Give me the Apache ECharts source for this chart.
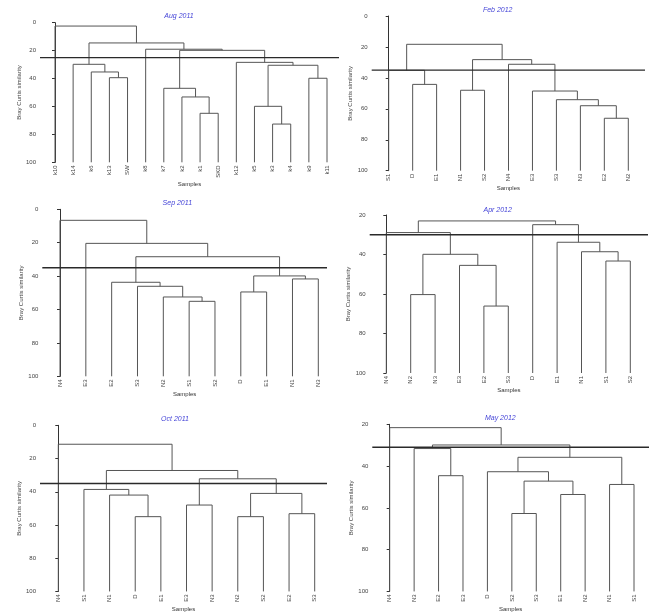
<!DOCTYPE html>
<html><head><meta charset="utf-8">
<script src="https://cdn.jsdelivr.net/npm/echarts@6/dist/echarts.min.js"></script>
<style>html,body{margin:0;padding:0;background:#fff}#c{width:653px;height:613px}</style>
</head><body><div id="c"></div>
<script>
// ---- DATA ----
// merges: [childA, childB, height]; a string = leaf, a number = index of an earlier merge
const augLeaves = ['k10','k14','k6','k13','SW','k8','k7','k2','k1','SKD','k12','k5','k3','k4','k9','k11'];
const augMerges = [
  ['k13','SW',39.4], ['k6',0,35.3], ['k14',1,29.8],
  ['k1','SKD',64.9], ['k2',3,53.2], ['k7',4,47.0],
  ['k3','k4',72.6], ['k5',6,59.9], ['k9','k11',39.8], [7,8,30.5], ['k12',9,28.4],
  [5,10,19.8], ['k8',11,19.0], [2,12,14.5], ['k10',13,2.4]
];
const augCut = 25;

const febLeaves = ['S1','D','E1','N1','S2','N4','E3','S3','N3','E2','N2'];
const febMerges = [
  ['D','E1',44.2], ['S1',0,35.1], ['N1','S2',48.0],
  ['E2','N2',66.1], ['N3',3,58.0], ['S3',4,54.1], ['E3',5,48.5], ['N4',6,31.2],
  [2,7,28.2], [1,8,18.3]
];
const febCut = 35;

const sepLeaves = ['N4','E3','E2','S3','N2','S1','S2','D','E1','N1','N3'];
const sepMerges = [
  ['S1','S2',55.1], ['N2',0,52.5], ['S3',1,46.1], ['E2',2,43.7],
  ['D','E1',49.5], ['N1','N3',41.7], [4,5,39.9],
  [3,6,28.4], ['E3',7,20.4], ['N4',8,6.6]
];
const sepCut = 35;

const aprLeaves = ['N4','N2','N3','E3','E2','S3','D','E1','N1','S1','S2'];
const aprMerges = [
  ['N2','N3',60.3], ['E2','S3',66.1], ['E3',1,45.5], [0,2,39.9], ['N4',3,28.9],
  ['S1','S2',43.3], ['N1',5,38.6], ['E1',6,33.8], ['D',7,24.9],
  [4,8,23.0]
];
const aprCut = 30;

const octLeaves = ['N4','S1','N1','D','E1','E3','N3','N2','S2','E2','S3'];
const octMerges = [
  ['D','E1',55.0], ['N1',0,42.0], ['S1',1,38.6],
  ['E3','N3',48.0], ['N2','S2',55.0], ['E2','S3',53.2], [4,5,41.0], [3,6,32.2],
  [2,7,27.2], ['N4',8,11.4]
];
const octCut = 35;

const mayLeaves = ['N4','N3','E2','E3','D','S2','S3','E1','N2','N1','S1'];
const mayMerges = [
  ['E2','E3',44.6], ['N3',0,31.6],
  ['S2','S3',62.7], ['E1','N2',53.6], [2,3,47.2], ['D',4,42.7], ['N1','S1',48.8], [5,6,35.8],
  [1,7,29.9], ['N4',8,21.6]
];
const mayCut = 31;

const yRangeFull = [0, 100];   // axis range for Aug/Feb/Sep/Oct
const yRangePart = [20, 100];  // axis range for Apr/May

// ---- LAYOUT ----
const panels = [
  {title:'Aug 2011', leaves:augLeaves, merges:augMerges, cut:augCut, yr:yRangeFull,
   L:{axisX:40, top:22.7, bottom:162.3, first:55, last:327, end:339, tx:179, ty:16}},
  {title:'Feb 2012', leaves:febLeaves, merges:febMerges, cut:febCut, yr:yRangeFull,
   L:{axisX:371.7, top:16, bottom:170.7, first:388.7, last:628.3, end:645, tx:497.7, ty:10}},
  {title:'Sep 2011', leaves:sepLeaves, merges:sepMerges, cut:sepCut, yr:yRangeFull,
   L:{axisX:42.3, top:209.3, bottom:376.3, first:60, last:318.3, end:327, tx:177.3, ty:203.5}},
  {title:'Apr 2012', leaves:aprLeaves, merges:aprMerges, cut:aprCut, yr:yRangePart,
   L:{axisX:369.7, top:215, bottom:373, first:386.3, last:630.3, end:648, tx:497.7, ty:210}},
  {title:'Oct 2011', leaves:octLeaves, merges:octMerges, cut:octCut, yr:yRangeFull,
   L:{axisX:40, top:425.3, bottom:592, first:58.3, last:314.7, end:327, tx:175, ty:419}},
  {title:'May 2012', leaves:mayLeaves, merges:mayMerges, cut:mayCut, yr:yRangePart,
   L:{axisX:372.3, top:424.3, bottom:596.7, first:389.7, last:634, end:649, tx:500.3, ty:418.3}}
];

function buildLinks(p) {
  const idx = {};
  p.leaves.forEach((n, i) => idx[n] = i);
  const yBottom = p.yr[1];
  const nodes = [];
  const get = r => typeof r === 'string' ? {x: idx[r], h: yBottom} : nodes[r];
  return p.merges.map(([a, b, h]) => {
    const A = get(a), B = get(b);
    nodes.push({x: (A.x + B.x) / 2, h: h});
    return [A.x, A.h, B.x, B.h, h];
  });
}

const FONT = '"Liberation Sans", Arial, sans-serif';
const grids = [], xAxes = [], yAxes = [], series = [], graphics = [];
panels.forEach((p, i) => {
  const L = p.L, n = p.leaves.length;
  const sp = (L.last - L.first) / (n - 1);
  const xMin = -(L.first - L.axisX) / sp;
  const xMax = (n - 1) + (L.end - L.last) / sp;
  grids.push({left: L.axisX, top: L.top, width: L.end - L.axisX, height: L.bottom - L.top});
  const leaves = p.leaves;
  xAxes.push({
    type: 'value', gridIndex: i, min: xMin, max: xMax,
    axisLine: {show: false}, axisTick: {show: false}, splitLine: {show: false},
    axisLabel: {customValues: leaves.map((_, k) => k), formatter: v => leaves[Math.round(v)],
      rotate: 90, fontSize: 6, color: '#444', margin: 3},
    name: 'Samples', nameLocation: 'middle', nameGap: 1,
    nameTextStyle: {fontSize: 6, color: '#333'}
  });
  yAxes.push({
    type: 'value', gridIndex: i, inverse: true, min: p.yr[0], max: p.yr[1], interval: 20,
    axisLine: {show: true, lineStyle: {color: '#333', width: 1}},
    axisTick: {show: true, length: 3, lineStyle: {color: '#333'}},
    axisLabel: {fontSize: 6, color: '#444', margin: 4},
    splitLine: {show: false},
    name: 'Bray Curtis similarity', nameLocation: 'middle', nameRotate: 90, nameGap: 2,
    nameTextStyle: {fontSize: 6, color: '#444'}
  });
  series.push({
    type: 'custom', xAxisIndex: i, yAxisIndex: i, silent: true, clip: false,
    data: buildLinks(p),
    encode: {x: [0, 2], y: [1, 3, 4]},
    renderItem: (params, api) => {
      const p1 = api.coord([api.value(0), api.value(1)]);
      const p2 = api.coord([api.value(0), api.value(4)]);
      const p3 = api.coord([api.value(2), api.value(4)]);
      const p4 = api.coord([api.value(2), api.value(3)]);
      return {type: 'polyline', shape: {points: [p1, p2, p3, p4]},
        style: {stroke: '#555', lineWidth: 1, fill: null}};
    }
  });
  series.push({
    type: 'line', xAxisIndex: i, yAxisIndex: i, silent: true, symbol: 'none',
    data: [[xMin, p.cut], [xMax, p.cut]],
    lineStyle: {color: '#2a2a2a', width: 1.4}
  });
  graphics.push({
    type: 'text', x: L.tx, y: L.ty,
    style: {text: p.title, textAlign: 'center', textVerticalAlign: 'middle',
      font: 'italic 7px ' + FONT, fill: '#4646d8'}
  });
});

const chart = echarts.init(document.getElementById('c'), null, {renderer: 'canvas'});
chart.setOption({
  animation: false,
  backgroundColor: '#fff',
  textStyle: {fontFamily: FONT},
  grid: grids, xAxis: xAxes, yAxis: yAxes, series: series, graphic: graphics
});
</script>
</body></html>
